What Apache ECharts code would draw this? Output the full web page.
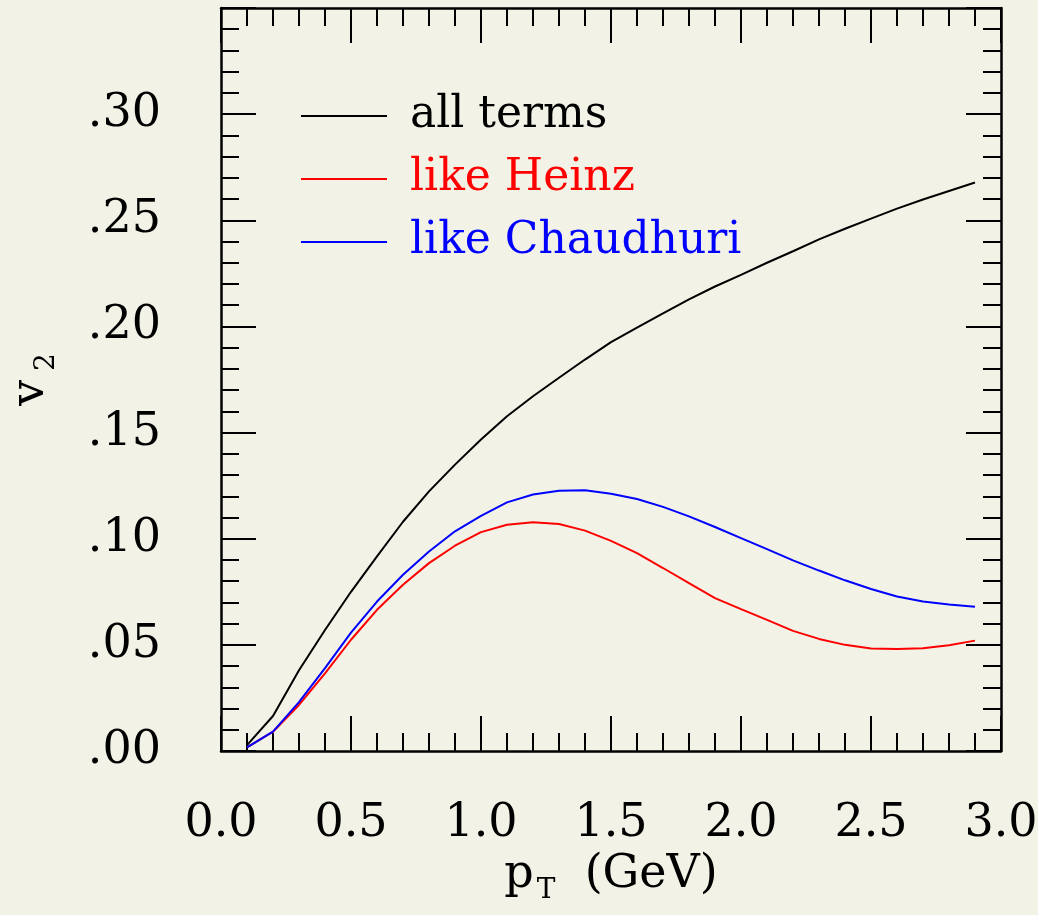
<!DOCTYPE html>
<html>
<head>
<meta charset="utf-8">
<script src="https://cdn.jsdelivr.net/npm/echarts@6/dist/echarts.min.js"></script>
<style>
html,body{margin:0;padding:0;background:#f2f2e6;}
#c{width:1038px;height:915px;}
</style>
</head>
<body>
<div id="c"></div>
<script>
const pT = [0.1,0.2,0.3,0.4,0.5,0.6,0.7,0.8,0.9,1.0,1.1,1.2,1.3,1.4,1.5,1.6,1.7,1.8,1.9,2.0,2.1,2.2,2.3,2.4,2.5,2.6,2.7,2.8,2.9];
const allTerms = [0.0028,0.0165,0.038,0.057,0.075,0.0917,0.108,0.1223,0.1349,0.1467,0.1577,0.1671,0.1758,0.1844,0.1926,0.1994,0.2061,0.2127,0.2188,0.2243,0.230,0.2354,0.2410,0.2460,0.2508,0.2555,0.2598,0.2638,0.2678];
const likeHeinz = [0.0017,0.0091,0.0217,0.0366,0.0524,0.0665,0.0783,0.0885,0.0967,0.1031,0.1066,0.1077,0.1069,0.1038,0.099,0.0932,0.0862,0.0791,0.072,0.0668,0.0618,0.0566,0.0528,0.050,0.0483,0.048,0.0484,0.0498,0.052];
const likeChaudhuri = [0.0017,0.0091,0.023,0.039,0.0558,0.0704,0.083,0.094,0.1035,0.1108,0.1171,0.1208,0.1226,0.1228,0.1212,0.1187,0.115,0.1105,0.1055,0.1003,0.0951,0.0898,0.085,0.0804,0.0763,0.0728,0.0704,0.069,0.0679];
const seriesNames = ['all terms','like Heinz','like Chaudhuri'];
const seriesColors = ['#000000','#ff0000','#0000ff'];
const seriesValues = [allTerms, likeHeinz, likeChaudhuri];

const FONT = 'DejaVu Serif';
const chart = echarts.init(document.getElementById('c'));
const tickStyle = {color:'#000', width:2};
function xAx(pos, showLabel){
  return {
    type:'value', position:pos, min:0, max:3, interval:0.5,
    axisLine:{show:true, onZero:false, lineStyle:{color:'#000', width:2.5}},
    axisTick:{show:true, inside:true, length:35, lineStyle:tickStyle},
    minorTick:{show:true, splitNumber:5, length:18, lineStyle:tickStyle},
    splitLine:{show:false}, minorSplitLine:{show:false},
    axisLabel:{show:showLabel, margin:50, color:'#000', fontFamily:FONT, fontSize:46,
      formatter:v=>v.toFixed(1)},
    name: showLabel ? '{a|p}{b|T}{a|  (GeV)}' : '',
    nameLocation:'middle', nameGap:94,
    nameTextStyle:{rich:{
      a:{fontFamily:FONT, fontSize:46, color:'#000', lineHeight:60, verticalAlign:'middle'},
      b:{fontFamily:FONT, fontSize:28, color:'#000', lineHeight:60, verticalAlign:'bottom', padding:[0,0,0,3]}
    }}
  };
}
function yAx(pos, showLabel){
  return {
    type:'value', position:pos, min:0, max:0.35, interval:0.05,
    axisLine:{show:true, onZero:false, lineStyle:{color:'#000', width:2.5}},
    axisTick:{show:true, inside:true, length:35, lineStyle:tickStyle},
    minorTick:{show:true, splitNumber:5, length:18, lineStyle:tickStyle},
    splitLine:{show:false}, minorSplitLine:{show:false},
    axisLabel:{show:showLabel, margin:60, color:'#000', fontFamily:FONT, fontSize:46,
      formatter:v=> (Math.abs(v-0.35)<1e-9) ? '' : v.toFixed(2).replace(/^0/,'')},
    name: showLabel ? '{a|v}{b| 2}' : '',
    nameLocation:'middle', nameGap:160, nameRotate:90,
    nameTextStyle:{rich:{
      a:{fontFamily:FONT, fontSize:46, color:'#000', lineHeight:60, verticalAlign:'middle'},
      b:{fontFamily:FONT, fontSize:28, color:'#000', lineHeight:60, verticalAlign:'bottom'}
    }}
  };
}
chart.setOption({
  backgroundColor:'#f2f2e6',
  animation:false,
  grid:{left:221, top:8, width:780, height:743, containLabel:false, outerBoundsMode:'none'},
  xAxis:[xAx('bottom', true), xAx('top', false)],
  yAxis:[yAx('left', true), yAx('right', false)],
  legend:{
    orient:'vertical', left:296, top:86, icon:'rect', itemWidth:86, itemHeight:2,
    itemGap:13,
    data: seriesNames.map((n,i)=>({name:n, textStyle:{color:seriesColors[i]}})),
    textStyle:{fontFamily:FONT, fontSize:44, lineHeight:50, padding:[0,0,0,18]}
  },
  series: seriesNames.map((n,i)=>({
    name:n, type:'line', xAxisIndex:0, yAxisIndex:0,
    data: pT.map((x,j)=>[x, seriesValues[i][j]]),
    showSymbol:false, symbol:'none', smooth:false,
    lineStyle:{color:seriesColors[i], width:2},
    itemStyle:{color:seriesColors[i]}
  }))
});
</script>
</body>
</html>
